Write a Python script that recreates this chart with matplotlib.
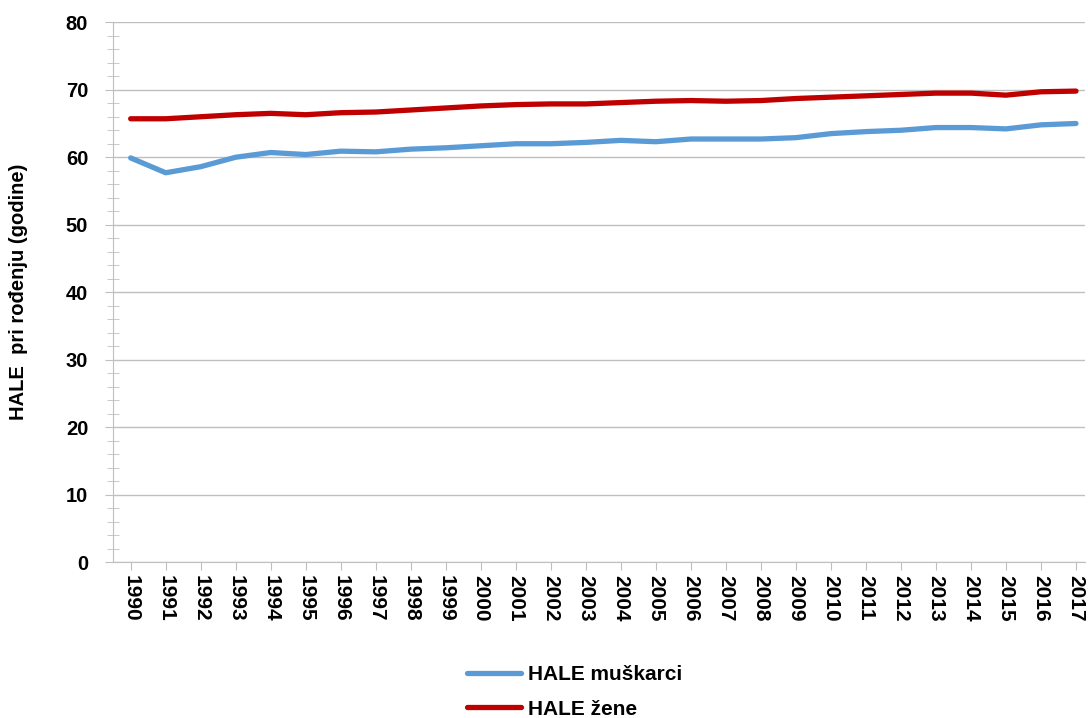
import numpy as np
import matplotlib.pyplot as plt
from matplotlib.ticker import MultipleLocator

years = [str(y) for y in range(1990, 2018)]
hale_muskarci = [59.9, 57.7, 58.6, 60.0, 60.7, 60.4, 60.9, 60.8, 61.2, 61.4,
                 61.7, 62.0, 62.0, 62.2, 62.5, 62.3, 62.7, 62.7, 62.7, 62.9,
                 63.5, 63.8, 64.0, 64.4, 64.4, 64.2, 64.8, 65.0]
hale_zene = [65.7, 65.7, 66.0, 66.3, 66.5, 66.3, 66.6, 66.7, 67.0, 67.3,
             67.6, 67.8, 67.9, 67.9, 68.1, 68.3, 68.4, 68.3, 68.4, 68.7,
             68.9, 69.1, 69.3, 69.5, 69.5, 69.2, 69.7, 69.8]

plt.rcParams['font.family'] = ['Liberation Sans', 'DejaVu Sans']
plt.rcParams['font.weight'] = 'bold'

fig = plt.figure(figsize=(10.88, 7.18), dpi=100)
ax = fig.add_axes([0.104, 0.217, 0.893, 0.752])

x = np.arange(len(years))
ax.plot(x, hale_muskarci, color='#5B9BD5', lw=3.8, solid_capstyle='round',
        label='HALE muškarci')
ax.plot(x, hale_zene, color='#C00000', lw=3.8, solid_capstyle='round',
        label='HALE žene')

ax.set_xlim(-0.5, len(years) - 0.75)
ax.set_ylim(0, 80)
ax.set_xticks(x)
ax.set_xticklabels(years, rotation=-90, fontsize=15, fontweight='bold')
ax.yaxis.set_major_locator(MultipleLocator(10))
ax.yaxis.set_minor_locator(MultipleLocator(2))
for lab in ax.get_yticklabels():
    lab.set_fontsize(14.5)
    lab.set_fontweight('bold')

ax.grid(axis='y', color='#BFBFBF', lw=1.0)
ax.set_axisbelow(True)
for s in ['top', 'right']:
    ax.spines[s].set_visible(False)
for s in ['left', 'bottom']:
    ax.spines[s].set_color('#BFBFBF')
ax.tick_params(axis='x', length=6, color='#BFBFBF', pad=3)
ax.tick_params(axis='y', which='major', length=6, color='#BFBFBF', pad=12)
ax.tick_params(axis='y', which='minor', length=8, direction='inout', color='#BFBFBF')

ax.set_ylabel('HALE  pri rođenju (godine)', fontsize=14.5, fontweight='bold')
ax.yaxis.set_label_coords(-0.088, 0.5)

fig.legend(loc='lower center', bbox_to_anchor=(0.528, -0.027), ncol=1, frameon=False,
           prop={'size': 15, 'weight': 'bold'}, handlelength=2.6, handletextpad=0.3,
           labelspacing=0.75)

fig.savefig('out.png', dpi=100)
